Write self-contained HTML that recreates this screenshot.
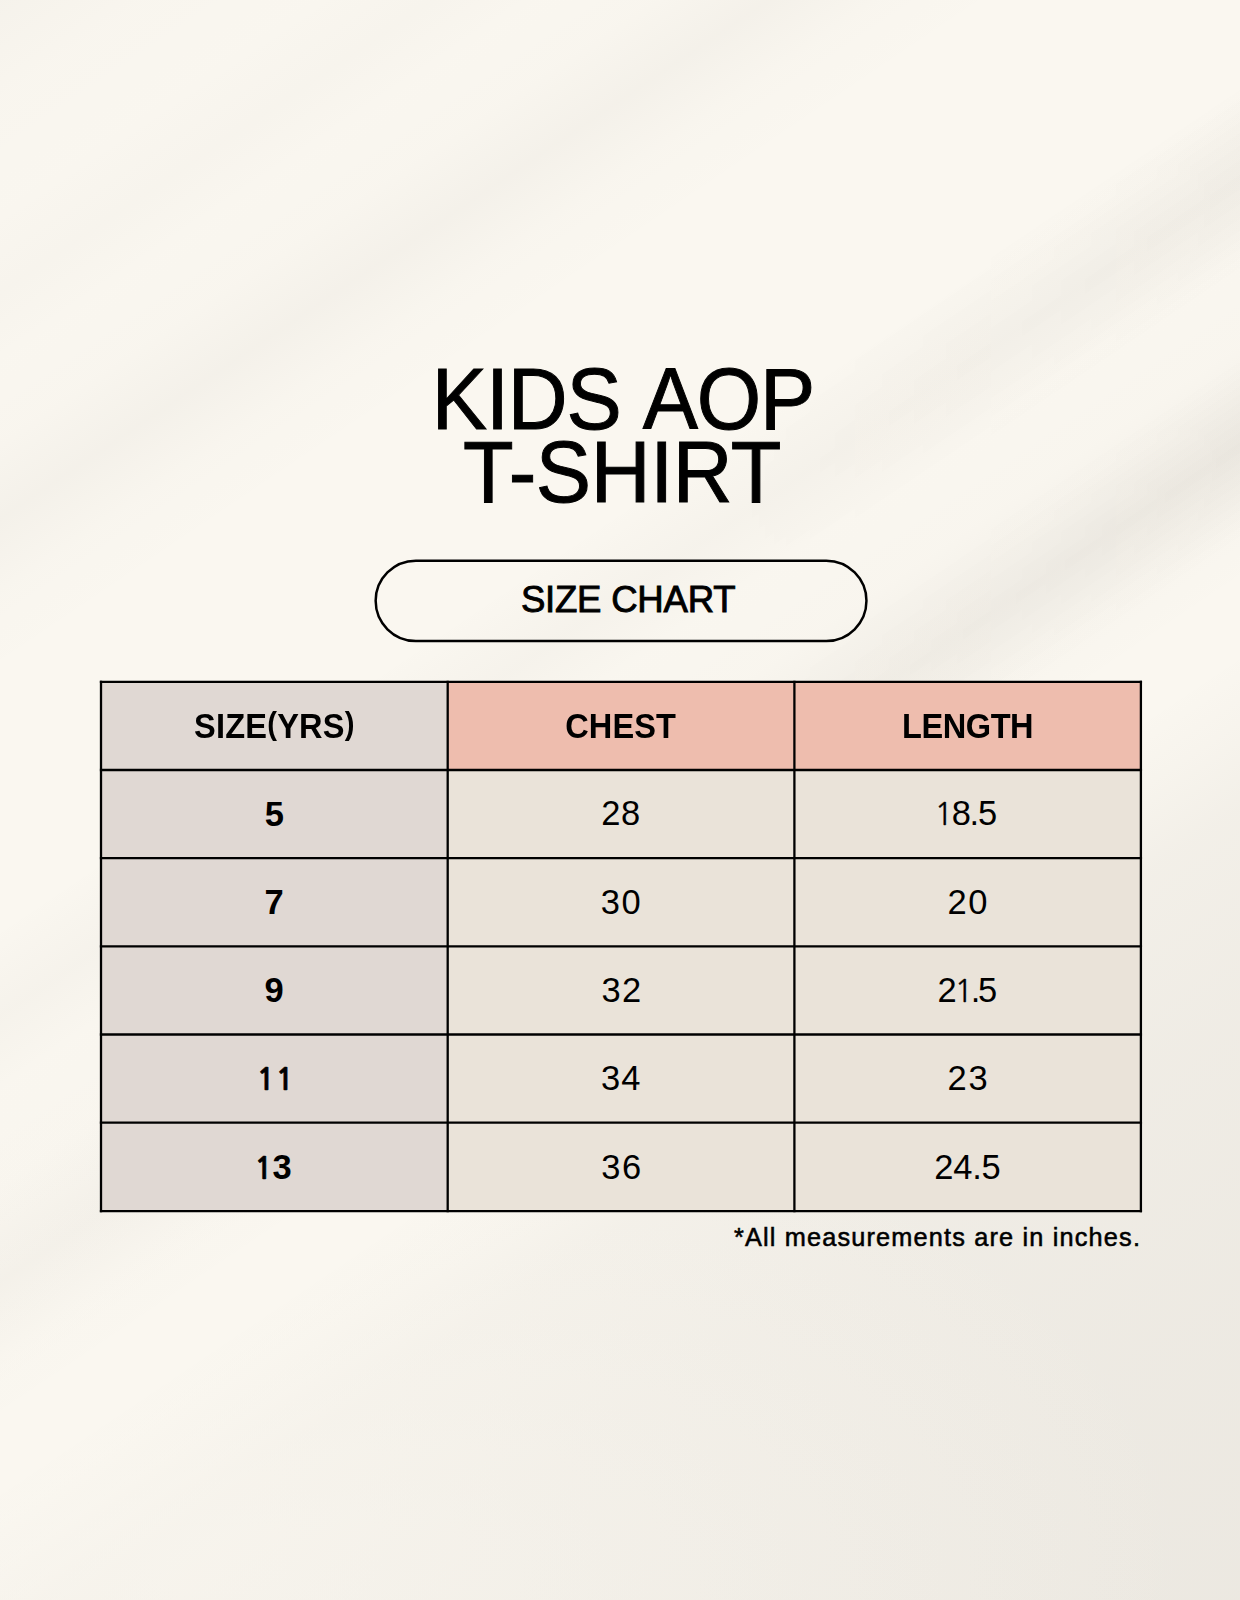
<!DOCTYPE html>
<html lang="en">
<head>
<meta charset="utf-8">
<title>Kids AOP T-Shirt Size Chart</title>
<style>
*{margin:0;padding:0;box-sizing:border-box}
html,body{width:1240px;height:1600px;overflow:hidden}
body{position:relative;background:#faf7f0;font-family:"Liberation Sans",sans-serif;color:#000}
.bg{position:absolute;left:0;top:0;width:1240px;height:1600px;overflow:hidden}
svg.art{position:absolute;left:0;top:0;width:1240px;height:1600px}
.title{position:absolute;left:0;width:1240px;text-align:center;font-size:87.2px;line-height:74.2px;top:362.4px;font-weight:400;-webkit-text-stroke:1px #000;white-space:nowrap}
.title span{display:block;position:relative;transform:scaleX(0.95);transform-origin:620px 50%}
.title .l1{letter-spacing:-1.2px;word-spacing:5px;left:2.7px;top:-0.2px}
.title .l2{letter-spacing:-0.4px;left:2.1px;top:-1.3px}
.pilltxt{position:absolute;left:0;top:559px;width:1240px;height:82px;line-height:82px;text-align:center;font-size:36.6px;letter-spacing:-0.25px;-webkit-text-stroke:0.9px #000;white-space:nowrap}
.pilltxt span{position:relative;left:8.1px}
.c{position:absolute;width:340px;height:80px;display:flex;align-items:center;justify-content:center;white-space:nowrap}
.h{font-size:35px;font-weight:700}
.h span{display:inline-block;transform:scaleX(0.93)}
.h i{font-style:normal;font-size:0.9em;position:relative;top:-3.8px}
.b{font-size:34.5px;font-weight:700}
.d{font-size:34.5px;font-weight:400}
.c em{font-style:normal;font-family:"NanumGothic","Liberation Sans",sans-serif;font-size:0.885em}
.b em{-webkit-text-stroke:0.55px #000}
.d em{-webkit-text-stroke:0.3px #000}
.note{position:absolute;right:98.9px;top:1223px;font-size:25.3px;letter-spacing:1.17px;-webkit-text-stroke:0.55px #000;white-space:nowrap}
</style>
</head>
<body>
<div class="bg"><div style="position:absolute;left:0;top:0;width:1240px;height:1600px;background:radial-gradient(ellipse 980px 520px at 220px 1560px,rgba(250,247,240,0.6),rgba(250,247,240,0) 100%),linear-gradient(146deg,rgba(60,50,40,0.0225) 0%,rgba(60,50,40,0.0090) 4%,rgba(60,50,40,0.0030) 8.5%,rgba(60,50,40,0.0150) 12%,rgba(60,50,40,0.0030) 15%,rgba(60,50,40,0.0075) 18%,rgba(60,50,40,0.0300) 21.3%,rgba(60,50,40,0.0075) 24.5%,rgba(60,50,40,0.0000) 28%,rgba(60,50,40,0.0000) 38%,rgba(60,50,40,0.0225) 41.7%,rgba(60,50,40,0.0022) 44.8%,rgba(60,50,40,0.0075) 48.5%,rgba(60,50,40,0.0413) 52.6%,rgba(60,50,40,0.0090) 56.2%,rgba(60,50,40,0.0000) 58.5%,rgba(60,50,40,0.0000) 61%,rgba(60,50,40,0.0165) 64%,rgba(60,50,40,0.0375) 67.5%,rgba(60,50,40,0.0562) 75.5%,rgba(60,50,40,0.0675) 87.5%,rgba(60,50,40,0.0750) 100%)"></div><div style="position:absolute;left:0;top:0;width:1240px;height:1600px;background:linear-gradient(146deg,rgba(60,50,40,0.0000) 0%,rgba(60,50,40,0.0000) 37.8%,rgba(60,50,40,0.0187) 40%,rgba(60,50,40,0.0315) 41.8%,rgba(60,50,40,0.0187) 43.6%,rgba(60,50,40,0.0000) 45.5%,rgba(60,50,40,0.0000) 49%,rgba(60,50,40,0.0225) 51%,rgba(60,50,40,0.0375) 52.7%,rgba(60,50,40,0.0225) 54.4%,rgba(60,50,40,0.0000) 56.5%,rgba(60,50,40,0.0000) 100%);-webkit-mask-image:linear-gradient(to right,rgba(0,0,0,0) 58%,rgba(0,0,0,0.5) 80%,#000 100%);mask-image:linear-gradient(to right,rgba(0,0,0,0) 58%,rgba(0,0,0,0.5) 80%,#000 100%)"></div></div>
<svg class="art" viewBox="0 0 1240 1600">
<rect x="375.65" y="560.65" width="490.8" height="80.4" rx="40.2" ry="40.2" fill="none" stroke="#000" stroke-width="2.5"/>
<g shape-rendering="geometricPrecision">
<rect x="101.00" y="681.80" width="346.70" height="88.20" fill="#e0d8d3"/>
<rect x="447.70" y="681.80" width="346.70" height="88.20" fill="#eebdae"/>
<rect x="794.40" y="681.80" width="346.50" height="88.20" fill="#eebdae"/>
<rect x="101.00" y="770.00" width="346.70" height="88.20" fill="#e0d8d3"/>
<rect x="447.70" y="770.00" width="346.70" height="88.20" fill="#eae3d9"/>
<rect x="794.40" y="770.00" width="346.50" height="88.20" fill="#eae3d9"/>
<rect x="101.00" y="858.20" width="346.70" height="88.10" fill="#e0d8d3"/>
<rect x="447.70" y="858.20" width="346.70" height="88.10" fill="#eae3d9"/>
<rect x="794.40" y="858.20" width="346.50" height="88.10" fill="#eae3d9"/>
<rect x="101.00" y="946.30" width="346.70" height="88.20" fill="#e0d8d3"/>
<rect x="447.70" y="946.30" width="346.70" height="88.20" fill="#eae3d9"/>
<rect x="794.40" y="946.30" width="346.50" height="88.20" fill="#eae3d9"/>
<rect x="101.00" y="1034.50" width="346.70" height="88.20" fill="#e0d8d3"/>
<rect x="447.70" y="1034.50" width="346.70" height="88.20" fill="#eae3d9"/>
<rect x="794.40" y="1034.50" width="346.50" height="88.20" fill="#eae3d9"/>
<rect x="101.00" y="1122.70" width="346.70" height="88.40" fill="#e0d8d3"/>
<rect x="447.70" y="1122.70" width="346.70" height="88.40" fill="#eae3d9"/>
<rect x="794.40" y="1122.70" width="346.50" height="88.40" fill="#eae3d9"/>
</g>
<g stroke="#000" stroke-width="2.3" stroke-linecap="butt">
<line x1="101.00" y1="680.65" x2="101.00" y2="1212.25"/>
<line x1="447.70" y1="680.65" x2="447.70" y2="1212.25"/>
<line x1="794.40" y1="680.65" x2="794.40" y2="1212.25"/>
<line x1="1140.90" y1="680.65" x2="1140.90" y2="1212.25"/>
<line x1="99.85" y1="681.80" x2="1142.05" y2="681.80"/>
<line x1="99.85" y1="770.00" x2="1142.05" y2="770.00"/>
<line x1="99.85" y1="858.20" x2="1142.05" y2="858.20"/>
<line x1="99.85" y1="946.30" x2="1142.05" y2="946.30"/>
<line x1="99.85" y1="1034.50" x2="1142.05" y2="1034.50"/>
<line x1="99.85" y1="1122.70" x2="1142.05" y2="1122.70"/>
<line x1="99.85" y1="1211.10" x2="1142.05" y2="1211.10"/>
</g>
</svg>
<div class="title"><span class="l1">KIDS AOP</span><span class="l2">T-SHIRT</span></div>
<div class="pilltxt"><span>SIZE CHART</span></div>
<div class="c h" style="left:104.57px;top:685.82px;letter-spacing:0.22px"><span>SIZE<i>(</i>YRS<i>)</i></span></div>
<div class="c h" style="left:450.22px;top:685.82px;letter-spacing:0.11px"><span>CHEST</span></div>
<div class="c h" style="left:797.39px;top:685.82px;letter-spacing:-0.46px"><span>LENGTH</span></div>
<div class="c b" style="left:104.44px;top:774.11px;letter-spacing:0px"><span>5</span></div>
<div class="c d" style="left:451.10px;top:773.56px;letter-spacing:0.74px"><span>28</span></div>
<div class="c d" style="left:795.13px;top:773.99px;letter-spacing:-1.28px"><span><em>1</em>8.5</span></div>
<div class="c b" style="left:104.20px;top:862.26px;letter-spacing:0px"><span>7</span></div>
<div class="c d" style="left:451.51px;top:862.26px;letter-spacing:1.65px"><span>30</span></div>
<div class="c d" style="left:798.32px;top:862.26px;letter-spacing:1.66px"><span>20</span></div>
<div class="c b" style="left:104.13px;top:950.76px;letter-spacing:0px"><span>9</span></div>
<div class="c d" style="left:452.14px;top:950.76px;letter-spacing:1.54px"><span>32</span></div>
<div class="c d" style="left:796.19px;top:950.29px;letter-spacing:-2.32px"><span>2<em>1</em>.5</span></div>
<div class="c b" style="left:105.58px;top:1038.60px;letter-spacing:0.47px"><span><em>11</em></span></div>
<div class="c d" style="left:451.27px;top:1038.60px;letter-spacing:1.15px"><span>34</span></div>
<div class="c d" style="left:798.60px;top:1038.60px;letter-spacing:1.88px"><span>23</span></div>
<div class="c b" style="left:102.74px;top:1127.26px;letter-spacing:-0.36px"><span><em>1</em>3</span></div>
<div class="c d" style="left:452.01px;top:1127.26px;letter-spacing:1.5px"><span>36</span></div>
<div class="c d" style="left:797.41px;top:1127.26px;letter-spacing:-0.24px"><span>24.5</span></div>
<div class="note">*All measurements are in inches.</div>
</body>
</html>
